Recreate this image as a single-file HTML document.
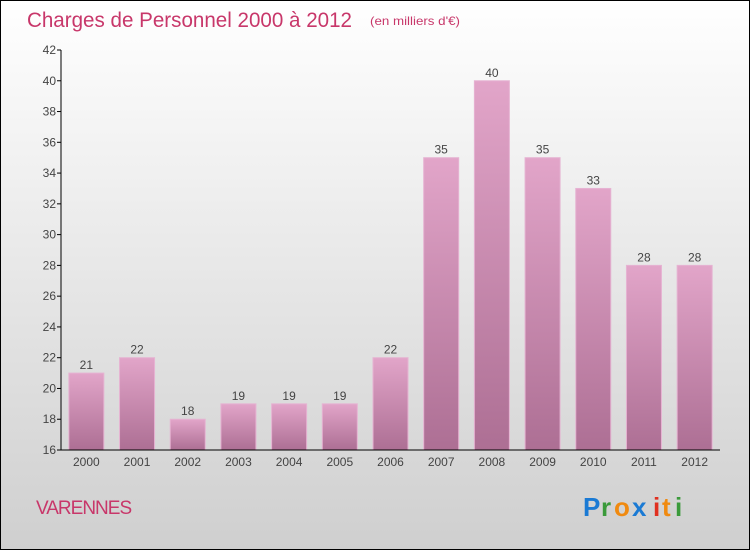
<!DOCTYPE html>
<html><head><meta charset="utf-8"><style>
body{margin:0;width:750px;height:550px;overflow:hidden;font-family:"Liberation Sans",sans-serif}
</style></head><body>
<svg width="750" height="550" xmlns="http://www.w3.org/2000/svg">
<defs>
<linearGradient id="bg" x1="0" y1="0" x2="0" y2="1"><stop offset="0" stop-color="#ffffff"/><stop offset="1" stop-color="#cfcfcf"/></linearGradient>
<linearGradient id="bar" x1="0" y1="0" x2="0" y2="1"><stop offset="0" stop-color="#e2a5c9"/><stop offset="1" stop-color="#ad6f94"/></linearGradient>
</defs>
<rect x="0.5" y="0.5" width="749" height="549" fill="url(#bg)" stroke="#000"/>
<text x="27" y="27" font-size="21" fill="#c8376a" textLength="325" lengthAdjust="spacingAndGlyphs">Charges de Personnel 2000 à 2012</text>
<text x="370" y="25" font-size="12" fill="#c8376a" textLength="90" lengthAdjust="spacingAndGlyphs">(en milliers d'€)</text>
<g id="bars"></g>
<g id="axes"></g>
<text x="36" y="514" font-size="19" fill="#c8376a" letter-spacing="-1">VARENNES</text>
<g font-size="26" font-weight="bold">
<text x="583" y="516" fill="#1a7ad4">P</text><text x="601" y="516" fill="#3a9a3a">r</text><text x="614" y="516" fill="#f08a10">o</text><text x="632" y="516" fill="#1a7ad4">x</text><text x="653" y="516" fill="#e03020">i</text><text x="662" y="516" fill="#f08a10">t</text><text x="675" y="516" fill="#3a9a3a">i</text>
</g>
</svg>
<script>
const categories=["2000","2001","2002","2003","2004","2005","2006","2007","2008","2009","2010","2011","2012"];
const values=[21,22,18,19,19,19,22,35,40,35,33,28,28];
const yTicks=[16,18,20,22,24,26,28,30,32,34,36,38,40,42];
const NS="http://www.w3.org/2000/svg";
const x0=61,x1=720,yTop=50,yBot=450,yMin=16,yMax=42;
const y=v=>yBot-(v-yMin)/(yMax-yMin)*(yBot-yTop);
const step=(x1-x0)/categories.length;
const xc=i=>x0+step*(i+0.5);
function mk(t,a,p){const e=document.createElementNS(NS,t);for(const k in a)e.setAttribute(k,a[k]);p.appendChild(e);return e;}
const bars=document.getElementById('bars'),axes=document.getElementById('axes');
values.forEach((v,i)=>{
 const r=mk('rect',{x:xc(i)-17.5,y:y(v),width:35,height:yBot-y(v),fill:'url(#bar)',stroke:'#e6b3d2','stroke-width':1},bars);
 
 
 const t=mk('text',{x:xc(i),y:y(v)-4,'text-anchor':'middle','font-size':12,fill:'#444'},bars);
 t.textContent=v;
 
 
 const c=mk('text',{x:xc(i),y:yBot+16,'text-anchor':'middle','font-size':12,fill:'#444'},axes);
 c.textContent=categories[i];
 
 
});
yTicks.forEach(v=>{
 mk('line',{x1:x0-4,x2:x0,y1:y(v),y2:y(v),stroke:'#000'},axes);
 const t=mk('text',{x:x0-5,y:y(v)+4,'text-anchor':'end','font-size':12,fill:'#444'},axes);
 t.textContent=v;
 
 
});
const ya=mk('line',{x1:x0,x2:x0,y1:yTop,y2:yBot,stroke:'#000'},axes);


const xa=mk('line',{x1:x0,x2:x1,y1:yBot,y2:yBot,stroke:'#000'},axes);


</script>
</body></html>
